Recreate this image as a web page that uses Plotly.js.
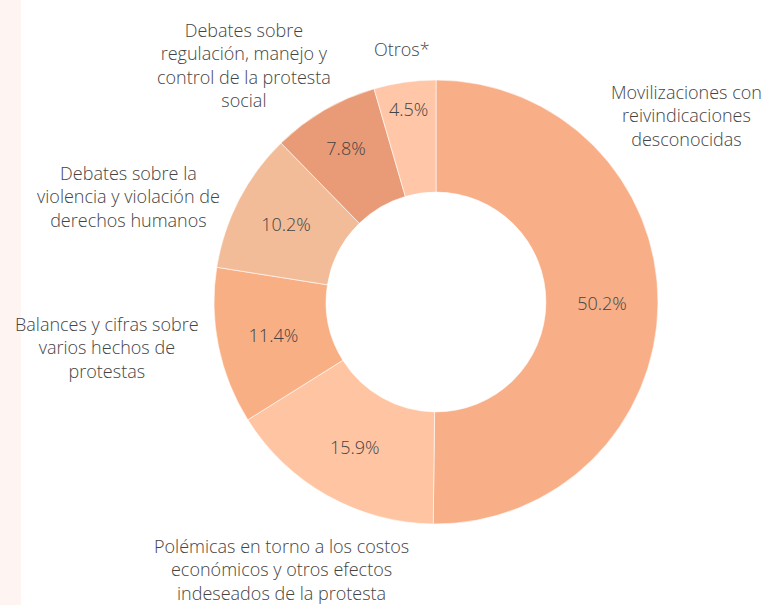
<!DOCTYPE html>
<html>
<head>
<meta charset="utf-8">
<script src="https://cdn.plot.ly/plotly-3.0.1.min.js"></script>
<style>html,body{margin:0;padding:0;background:#fff;}#chart{width:781px;height:605px;}</style>
</head>
<body>
<div id="chart"></div>
<script>
const categories = [
  "Movilizaciones con<br>reivindicaciones<br>desconocidas",
  "Polémicas en torno a los costos<br>económicos y otros efectos<br>indeseados de la protesta",
  "Balances y cifras sobre<br>varios hechos de<br>protestas",
  "Debates sobre la<br>violencia y violación de<br>derechos humanos",
  "Debates sobre<br>regulación, manejo y<br>control de la protesta<br>social",
  "Otros*"
];
const values = [50.2, 15.9, 11.4, 10.2, 7.8, 4.5];
const colors = ["#F8AE87", "#FFC4A2", "#F8AF84", "#F2BC99", "#E89B76", "#FFC6A7"];

// outside label placement (pixels in the 781x605 frame)
const labelPos = [
  [686, 116], [281, 569], [107, 348], [128, 196], [244, 64.5], [402, 49]
];

const W = 781, H = 605;
const annotations = categories.map((c, i) => ({
  text: c, xref: "paper", yref: "paper",
  x: labelPos[i][0] / W, y: 1 - labelPos[i][1] / H,
  xanchor: "center", yanchor: "middle", showarrow: false, align: "center",
  font: {family: "Open Sans", size: 18, weight: 300, color: "#444"}
}));

const trace = {
  type: "pie",
  values: values,
  labels: categories,
  marker: {colors: colors, line: {color: "#ffffff", width: 0.6}},
  hole: 0.495,
  sort: false,
  direction: "clockwise",
  rotation: 0,
  texttemplate: "%{value:.1f}%",
  textposition: "inside",
  insidetextorientation: "horizontal",
  textfont: {family: "Open Sans", size: 18, weight: 300, color: "#444"},
  domain: {x: [214 / W, 658 / W], y: [1 - 524 / H, 1 - 80 / H]},
  showlegend: false,
  hoverinfo: "label+percent"
};

const layout = {
  width: W, height: H,
  margin: {l: 0, r: 0, t: 0, b: 0},
  paper_bgcolor: "#ffffff",
  showlegend: false,
  annotations: annotations,
  shapes: [{type: "rect", xref: "paper", yref: "paper", x0: 0, x1: 21 / W, y0: 0, y1: 1,
            fillcolor: "#FEF5F2", line: {width: 0}, layer: "below"}]
};

Plotly.newPlot("chart", [trace], layout, {displayModeBar: false});
</script>
</body>
</html>
